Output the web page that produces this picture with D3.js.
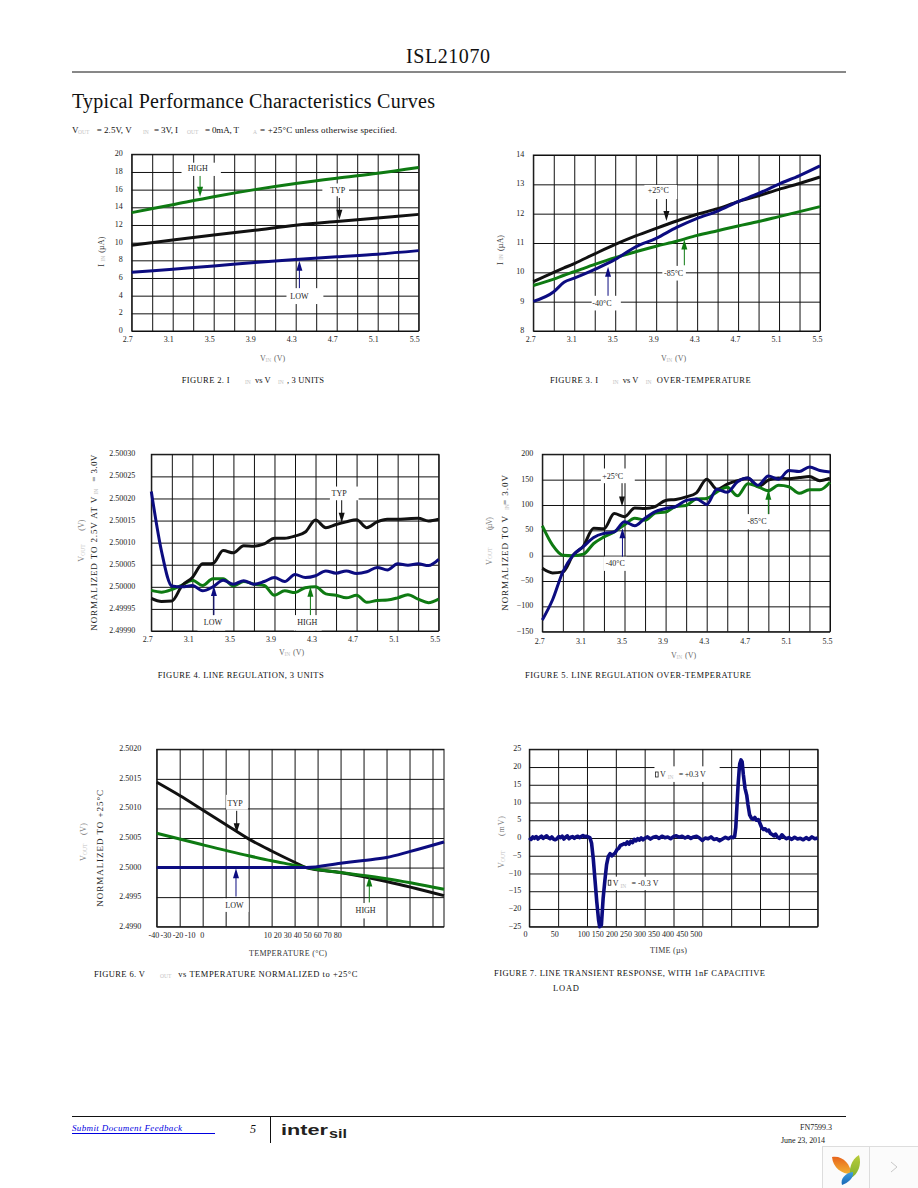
<!DOCTYPE html>
<html><head><meta charset="utf-8">
<script src="https://cdn.jsdelivr.net/npm/d3@7/dist/d3.min.js"></script>
<style>html,body{margin:0;padding:0;background:#fff}svg{display:block}text{font-family:"Liberation Serif","Times New Roman",serif}</style>
</head><body><div id="page"></div>
<script>
// ---------- data ----------
const vinCoarse = [2.7,3.1,3.5,3.9,4.3,4.7,5.1,5.5];
const fig2High = [13.4,14.3,15.2,16.0,16.7,17.3,17.85,18.5];
const fig2Typ  = [9.7,10.3,10.87,11.4,11.96,12.4,12.8,13.2];
const fig2Low  = [6.64,7.0,7.36,7.75,8.1,8.4,8.7,9.1];

const vinFig3 = [2.7,2.9,3.0,3.1,3.3,3.5,3.7,3.9,4.1,4.3,4.5,4.7,4.9,5.1,5.3,5.5];
const fig3P25 = [9.68,10.0,10.15,10.3,10.63,10.95,11.24,11.5,11.75,11.98,12.17,12.41,12.61,12.83,13.03,13.25];
const fig3P85 = [9.55,9.77,9.9,10.02,10.27,10.5,10.7,10.89,11.06,11.26,11.42,11.58,11.73,11.9,12.07,12.24];
const fig3M40 = [9.01,9.34,9.66,9.8,10.1,10.44,10.87,11.16,11.53,11.84,12.09,12.41,12.69,13.01,13.3,13.63];

const vinFine = [2.7,2.8,2.9,3.0,3.1,3.2,3.3,3.4,3.5,3.6,3.7,3.8,3.9,4.0,4.1,4.2,4.3,4.4,4.5,4.6,4.7,4.8,4.9,5.0,5.1,5.2,5.3,5.4,5.5];
// Figure 4: offset from 2.50000 V, in units of 10 uV
const fig4Typ  = [-2.6,-3.3,-3.2,0.3,2.1,5.2,5.3,8.2,7.7,9.3,9.2,9.7,11,11,11.5,12.4,15.1,13.4,14.1,14.7,15.2,13.4,14.7,15.3,15.3,15.4,15.5,14.9,15.3];
const fig4Low  = [21.6,8,0.2,0,0.3,-0.9,0,1.5,0.6,1.4,0.6,1.2,2.1,1.2,2.8,2.1,2.5,3.6,3.1,3.6,3,3.4,4.4,3.8,5.2,4.9,5.2,4.8,6.2];
const fig4High = [-0.8,-1.2,-0.6,0.4,1.5,0.3,1.8,1.8,0.2,1.2,0.6,0.3,-1.9,-0.9,-1.3,-0.2,0,-1.6,-1.9,-2.5,-1.9,-3.5,-3.1,-3,-2.5,-1.8,-2.8,-3.6,-2.8];

const fig5P25 = [-25,-34,-32,1,19,54,53,83,77,94,93,97,109,111,116,124,151,131,141,148,153,136,149,153,152,154,156,148,153];
const fig5M40 = [-127,-87,-32,1,18,36,44,47,67,59,74,87,93,97,109,112,101,131,125,146,153,139,157,151,168,166,175,168,165];
const fig5P85 = [59,21,1,0,3,24,37,47,61,74,70,84,86,97,99,112,113,126,135,118,142,136,128,139,136,123,130,130,145];

const tempTyp = [-40,-30,-20,-10,0,10,20,25,40,60,85];
const fig6Typ = [1.443,1.218,0.975,0.73,0.485,0.28,0.09,0,-0.085,-0.235,-0.475];
const tempHigh = [-40,-20,0,10,20,25,40,60,85];
const fig6High = [0.58,0.385,0.2,0.115,0.04,0,-0.085,-0.19,-0.367];
const tempLow = [-40,25,40,50,60,70,85];
const fig6Low = [0,0,0.073,0.12,0.17,0.27,0.434];

const transientTime = [0,3,6,9,12,15,18,21,24,27,30,33,36,39,42,45,48,51,54,57,60,63,66,69,72,75,78,81,84,87,90,93,96,99,102,105,108,111,114,117,120,122,125,128,131,134,137,140,143,146,149,152,155,158,161,164,167,170,173,176,179,182,185,188,191,194,197,200,205,210,215,220,225,230,235,240,245,250,255,260,265,270,275,280,285,290,295,300,305,310,315,320,325,330,335,340,345,350,353,356,358,360,362,364,365,367,369,371,374,377,379,382,385,388,391,394,397,400,403,406,409,412,415,418,421,424,427,430,434,438,442,446,450,455,460,465,470,475,480,485,490,495,500];
const transientMv   = [0.1,-0.4,0.3,-0.1,0.4,-0.3,0.2,0.5,-0.1,0.3,0.6,0.1,-0.2,0.3,-0.3,-0.5,-0.2,0.4,0.1,0.5,-0.3,0.3,0.6,-0.2,0.2,0.4,-0.1,0.3,0.5,0.1,0.4,0.7,0.3,0.5,0.3,0.1,-1.5,-6,-12,-18,-23,-25,-24.5,-17,-12,-7.5,-5.2,-4.4,-5,-4.6,-4.2,-3.3,-2.9,-2.1,-1.9,-1.6,-1.8,-1.1,-1.7,-0.9,-1.3,-0.4,-0.8,-0.2,-0.6,0,-0.5,-0.1,0.3,-0.3,0.2,0.4,-0.1,0.5,0.1,0.3,-0.2,0.4,0.6,0.2,0.5,0,0.4,-0.1,0.3,0.5,0,-0.7,0,-0.2,0.3,-0.4,-0.2,-0.8,-0.3,0.2,-0.2,0.3,0.1,0.4,3,9,15,19.5,21,22,21.5,18,14,12,9.5,6.5,5.6,5.3,5.8,5,5.2,4.1,2.9,2.4,2.6,2,2.2,1.3,1,0.6,1.1,0.3,-0.1,0.9,0.2,-0.2,0.1,-0.4,0.2,-0.3,-0.1,-0.5,0.1,-0.4,0.3,-0.2,0];

const figureCaptions = ["FIGURE 2. I","FIGURE 3. I","FIGURE 4. LINE REGULATION, 3 UNITS","FIGURE 5. LINE REGULATION OVER-TEMPERATURE","FIGURE 6. V","FIGURE 7. LINE TRANSIENT RESPONSE, WITH 1nF CAPACITIVE"];

// ---------- styles ----------
const GREEN="#0e7a12", BLACK="#111", NAVY="#0c0c80", GRAY="#c4c4c4", TICK="#222", AXT="#666";
const W=918,H=1188;
const svg=d3.select("#page").append("svg").attr("width",W).attr("height",H);
svg.append("rect").attr("width",W).attr("height",H).attr("fill","#fff");

function txt(g,x,y,s,o={}){
  const t=g.append("text").attr("x",x).attr("y",y).attr("font-size",o.size||8.5).attr("fill",o.fill||"#111").text(s);
  if(o.len){t.attr("textLength",o.len).attr("lengthAdjust",o.adjust||"spacing");}
  if(o.anchor)t.attr("text-anchor",o.anchor);
  if(o.italic)t.attr("font-style","italic");
  if(o.weight)t.attr("font-weight",o.weight);
  if(o.family)t.style("font-family",o.family);
  return t;
}
const sub=(g,x,y,s)=>txt(g,x,y,s,{size:5.5,fill:GRAY});
// rotated text reading bottom to top; runs = [offset, string, options]
function rotRuns(g,x,yBot,runs){
  const n=g.append("g").attr("transform",`translate(${x},${yBot}) rotate(-90)`);
  runs.forEach(r=>{ if(r[2]==="sub") sub(n,r[0],0.8,r[1]); else txt(n,r[0],0,r[1],r[2]); });
}

// ---------- page furniture ----------
svg.append("line").attr("x1",72).attr("x2",846).attr("y1",72).attr("y2",72).attr("stroke","#111");
txt(svg,406,63,"ISL21070",{size:20,len:84});
txt(svg,72,108,"Typical Performance Characteristics Curves",{size:20,len:363});
const s0=svg.append("g");
[[72,"V",0],[96.7,"= 2.5V, V",35],[154,"= 3V, I",24],[205,"= 0mA, T",34],[260,"= +25°C unless otherwise specified.",137]].forEach(d=>txt(s0,d[0],132.5,d[1],{size:9,len:d[2]||undefined}));
[[78,"OUT"],[143,"IN"],[187,"OUT"],[253,"A"]].forEach(d=>sub(s0,d[0],133.5,d[1]));

// ---------- chart factory ----------
function chart(c){
  const g=svg.append("g");
  const x=d3.scaleLinear().domain(c.xd).range([c.l,c.r]);
  const y=d3.scaleLinear().domain(c.yd).range([c.b,c.t]);
  const xgrid=d3.axisBottom(x).tickValues(c.xgrid).tickSize(c.t-c.b).tickFormat("");
  const ygrid=d3.axisLeft(y).tickValues(c.yticks).tickSize(c.l-c.r).tickFormat("");
  [g.append("g").attr("transform",`translate(0,${c.b})`).call(xgrid),
   g.append("g").attr("transform",`translate(${c.l},0)`).call(ygrid)].forEach(a=>{
     a.select(".domain").remove();
     a.selectAll("line").attr("stroke","#111").attr("stroke-width",1);
  });
  g.append("rect").attr("x",c.l).attr("y",c.t).attr("width",c.r-c.l).attr("height",c.b-c.t).attr("fill","none").attr("stroke","#111");
  const yl=d3.axisLeft(y).tickValues(c.yticks).tickSize(0).tickPadding(c.ygap).tickFormat(c.yfmt);
  const ya=g.append("g").attr("transform",`translate(${c.l},-1)`).call(yl);
  const lx=c.labelScale||x;
  const xl=d3.axisBottom(lx).tickValues(c.xlabels).tickSize(0).tickPadding(0).tickFormat(c.xfmt);
  const xa=g.append("g").attr("transform",`translate(${c.labelScale?0:c.xshift},${c.b+c.xgap})`).call(xl);
  [ya,xa].forEach(a=>{a.select(".domain").remove();a.selectAll("text").attr("font-size",8).attr("fill",TICK).style("font-family",'"Liberation Serif"');});
  const line=d3.line().x(d=>x(d[0])).y(d=>y(d[1])).curve(c.curve||d3.curveMonotoneX);
  c.series.forEach(s=>{
    g.append("path").attr("d",line(d3.zip(s.x,s.y))).attr("fill","none").attr("stroke",s.color).attr("stroke-width",c.sw||3).attr("stroke-linejoin","round");
  });
  (c.notes||[]).forEach(n=>{
    const bx=x(n.bx[0]),bx2=x(n.bx[1]),by=y(n.by[0]),by2=y(n.by[1]);
    g.append("rect").attr("x",bx).attr("y",by).attr("width",bx2-bx).attr("height",by2-by).attr("fill","#fff");
  });
  (c.notes||[]).forEach(n=>{
    if(n.label) txt(g,x(n.tx),y(n.ty)+2.7,n.label,{size:8,fill:"#222",anchor:"middle"});
    if(n.from!==undefined){
      const ax=x(n.ax),y1=y(n.from),y2=y(n.to),dir=y2>y1?1:-1;
      g.append("line").attr("x1",ax).attr("x2",ax).attr("y1",y1).attr("y2",y2-dir*6).attr("stroke",n.color).attr("stroke-width",1);
      g.append("path").attr("d",d3.line()([[ax-3,y2-dir*10],[ax+3,y2-dir*10],[ax,y2]])+"Z").attr("fill",n.color);
    }
    if(n.rich){
      const px=x(n.tx),py=y(n.ty);
      g.append("rect").attr("x",px+0.5).attr("y",py-2.5).attr("width",2.6).attr("height",5).attr("fill","none").attr("stroke","#222").attr("stroke-width",0.8);
      txt(g,px+5,py+3,"V",{size:8,fill:"#222"});
      sub(g,px+12.7,py+5,"IN");
      txt(g,px+23.7,py+3,n.rich,{size:8,fill:"#222",len:27});
    }
  });
  return g;
}
const stepRange=(a,b,s)=>d3.range(0,Math.round((b-a)/s)+1).map(i=>a+i*s);
const vGrid=stepRange(2.7,5.5,0.2), f1=d3.format(".1f");

chart({l:131.7,r:418.7,t:154.3,b:331,xd:[2.7,5.5],yd:[0,20],xgrid:vGrid,xlabels:vinCoarse,xfmt:f1,xshift:-4.5,xgap:5,
  yticks:stepRange(0,20,2),yfmt:d3.format("d"),ygap:9,
  series:[{x:vinCoarse,y:fig2High,color:GREEN},{x:vinCoarse,y:fig2Typ,color:BLACK},{x:vinCoarse,y:fig2Low,color:NAVY}],
  notes:[
   {label:"HIGH",tx:3.344,ty:18.45,bx:[3.186,3.57],by:[19.05,17.55],ax:3.367,from:17.55,to:15.2,color:GREEN},
   {label:"TYP",tx:4.71,ty:15.96,bx:[4.56,4.82],by:[16.7,15.25],ax:4.726,from:15.06,to:12.6,color:BLACK},
   {label:"LOW",tx:4.336,ty:3.96,bx:[4.21,4.57],by:[4.85,3.05],ax:4.336,from:4.85,to:7.96,color:NAVY}]});

chart({l:533.3,r:820,t:155,b:331,xd:[2.7,5.5],yd:[8,14],xgrid:vGrid,xlabels:vinCoarse,xfmt:f1,xshift:-3,xgap:5,
  yticks:stepRange(8,14,1),yfmt:d3.format("d"),ygap:9,
  series:[{x:vinFig3,y:fig3P25,color:BLACK},{x:vinFig3,y:fig3P85,color:GREEN},{x:vinFig3,y:fig3M40,color:NAVY}],
  notes:[
   {label:"+25°C",tx:3.92,ty:12.78,bx:[3.785,4.105],by:[12.98,12.5],ax:4.0,from:12.5,to:11.75,color:BLACK},
   {label:"-85°C",tx:4.07,ty:9.97,bx:[3.96,4.19],by:[10.22,9.72],ax:4.175,from:10.24,to:11.12,color:GREEN},
   {label:"-40°C",tx:3.37,ty:8.95,bx:[3.27,3.555],by:[9.2,8.7],ax:3.43,from:9.2,to:10.19,color:NAVY}]});

chart({l:151.3,r:438.7,t:454.3,b:631,xd:[2.7,5.5],yd:[-10,30],xgrid:vGrid,xlabels:vinCoarse,xfmt:f1,xshift:-4,xgap:5,
  yticks:stepRange(-10,30,5),yfmt:d=>(2.5+d*1e-5).toFixed(5),ygap:16,
  series:[{x:vinFine,y:fig4High,color:GREEN},{x:vinFine,y:fig4Typ,color:BLACK},{x:vinFine,y:fig4Low,color:NAVY}],
  notes:[
   {label:"TYP",tx:4.53,ty:21.2,bx:[4.44,4.72],by:[22.7,19.6],ax:4.555,from:19.6,to:14.5,color:BLACK},
   {label:"LOW",tx:3.3,ty:-8,bx:[3.15,3.42],by:[-6.4,-9.9],ax:3.31,from:-6.4,to:0.2,color:NAVY},
   {label:"HIGH",tx:4.22,ty:-8,bx:[4.09,4.36],by:[-6.4,-9.9],ax:4.25,from:-6.4,to:0,color:GREEN}]});

chart({l:542.3,r:830,t:454.3,b:631.7,xd:[2.7,5.5],yd:[-150,200],xgrid:vGrid,xlabels:vinCoarse,xfmt:f1,xshift:-3,xgap:6.5,
  yticks:stepRange(-150,200,50),yfmt:d3.format("d"),ygap:9,
  series:[{x:vinFine,y:fig5P25,color:BLACK},{x:vinFine,y:fig5P85,color:GREEN},{x:vinFine,y:fig5M40,color:NAVY}],
  notes:[
   {label:"+25°C",tx:3.385,ty:157,bx:[3.27,3.6],by:[172,143],ax:3.476,from:143,to:97,color:BLACK},
   {label:"-40°C",tx:3.41,ty:-15,bx:[3.3,3.52],by:[-2,-30],ax:3.48,from:-2,to:54,color:NAVY},
   {label:"-85°C",tx:4.79,ty:67,bx:[4.68,4.92],by:[82,52],ax:4.9,from:82,to:130,color:GREEN}]});

const tempLabels=[-40,-30,-20,-10,0,10,20,30,40,50,60,70,80];
chart({l:156.7,r:444,t:749.3,b:926.7,xd:[-40,85],yd:[-1,2],xgrid:stepRange(-40,80,10),xlabels:tempLabels,xfmt:d=>String(d),xgap:5.5,
  labelScale:d3.scaleLinear().domain([-40,0,10,80]).range([153.3,201.7,267.3,337.3]),
  yticks:stepRange(-1,2,0.5),yfmt:d=>(2.5+d*1e-3).toFixed(4),ygap:15.5,sw:3,
  series:[{x:tempTyp,y:fig6Typ,color:BLACK},{x:tempHigh,y:fig6High,color:GREEN},{x:tempLow,y:fig6Low,color:NAVY}],
  notes:[
   {label:"TYP",tx:-5.9,ty:1.088,bx:[-9.8,-0.3],by:[1.23,0.98],ax:-5.2,from:0.96,to:0.58,color:BLACK},
   {label:"LOW",tx:-6.2,ty:-0.63,bx:[-11,0],by:[-0.52,-0.75],ax:-5.5,from:-0.49,to:-0.01,color:NAVY},
   {label:"HIGH",tx:50.9,ty:-0.73,bx:[45.5,55.7],by:[-0.6,-0.86],ax:52.5,from:-0.59,to:-0.15,color:GREEN}]});

const timeLabels=d3.range(0,501,50);
chart({l:529.3,r:817.7,t:749.3,b:926.7,xd:[0,500],yd:[-25,25],xgrid:timeLabels,xlabels:timeLabels,xfmt:d3.format("d"),xgap:4.5,
  labelScale:d3.scaleLinear().domain([0,100,500]).range([525,583.3,695.7]),
  yticks:stepRange(-25,25,5),yfmt:d3.format("d"),ygap:8,curve:d3.curveLinear,sw:3.6,
  series:[{x:transientTime,y:transientMv,color:NAVY}],
  notes:[
   {rich:"= +0.3 V",tx:218,ty:17.9,bx:[217,330],by:[20.2,15.8]},
   {rich:"= -0.3 V",tx:136,ty:-12.6,bx:[135,226],by:[-10.9,-14.7]}]});

// ---------- axis titles ----------
const lab=svg.append("g");
function vin(x,y){txt(lab,x,y,"V",{size:8,fill:AXT});sub(lab,x+5.5,y+1,"IN");txt(lab,x+14,y,"(V)",{size:8,fill:AXT});}
vin(260,361);vin(661,361);vin(279,654.5);vin(671,657.5);
txt(lab,249,955.5,"TEMPERATURE (°C)",{size:8,len:78,fill:"#333"});
txt(lab,650,952.5,"TIME (µs)",{size:8,len:37,fill:"#333"});
const LB={size:8,fill:"#333"}, LG={size:8,fill:"#777"}, LN={size:9,fill:"#222"};
rotRuns(lab,104,266.7,[[0,"I",LB],[5,"IN","sub"],[14,"(µA)",{...LB,len:16}]]);
rotRuns(lab,502.5,265,[[0,"I",LB],[5,"IN","sub"],[14,"(µA)",{...LB,len:16}]]);
rotRuns(lab,84,561.7,[[0,"V",LG],[6,"OUT","sub"],[31,"(V)",{...LG,len:11}]]);
rotRuns(lab,97,630.7,[[0,"NORMALIZED TO 2.5V AT V",{...LN,len:134}],[136,"IN","sub"],[149,"= 3.0V",{...LN,len:27}]]);
rotRuns(lab,491.5,565,[[0,"V",LG],[6,"OUT","sub"],[35,"(µV)",{...LG,len:13}]]);
rotRuns(lab,508,610.7,[[0,"NORMALIZED TO V",{...LN,len:94.7}],[100.7,"IN","sub"],[105.7,"= 3.0V",{...LN,len:30}]]);
rotRuns(lab,86,861,[[0,"V",LG],[6,"OUT","sub"],[26,"(V)",{...LG,len:12}]]);
rotRuns(lab,103,906.7,[[0,"NORMALIZED TO +25°C",{...LN,len:116.7}]]);
rotRuns(lab,504,868,[[0,"V",LG],[6,"OUT","sub"],[32,"(mV)",{...LG,len:20}]]);

// ---------- captions ----------
const cap=svg.append("g"), CS=8.5;
txt(cap,181.7,383,figureCaptions[0],{size:CS,len:48});sub(cap,245,384,"IN");txt(cap,255,383,"vs V",{size:CS});sub(cap,278,384,"IN");txt(cap,287,383,", 3 UNITS",{size:CS,len:37});
txt(cap,550,383,figureCaptions[1],{size:CS,len:48});sub(cap,612.7,384,"IN");txt(cap,622.7,383,"vs V",{size:CS});sub(cap,645.7,384,"IN");txt(cap,656.7,383,"OVER-TEMPERATURE",{size:CS,len:94});
txt(cap,157.7,678,figureCaptions[2],{size:CS,len:166});
txt(cap,525,678,figureCaptions[3],{size:CS,len:226});
txt(cap,94,977,figureCaptions[4],{size:CS,len:51});sub(cap,160,978,"OUT");txt(cap,178.3,977,"vs TEMPERATURE NORMALIZED to +25°C",{size:CS,len:179});
txt(cap,494,976,figureCaptions[5],{size:CS,len:271});
txt(cap,553,990.5,"LOAD",{size:CS,len:26});

// ---------- footer ----------
const f=svg.append("g");
f.append("line").attr("x1",72).attr("x2",846).attr("y1",1116.5).attr("y2",1116.5).attr("stroke","#111");
txt(f,72,1131,"Submit Document Feedback",{size:9,fill:"#0000e0",italic:true,len:110});
f.append("line").attr("x1",72).attr("x2",215).attr("y1",1133.5).attr("y2",1133.5).attr("stroke","#0000e0");
txt(f,250,1133,"5",{size:12,italic:true});
f.append("line").attr("x1",270.5).attr("x2",270.5).attr("y1",1117).attr("y2",1143).attr("stroke","#111");
txt(f,281,1135,"inter",{size:15,weight:700,fill:"#231f20",family:'"Liberation Sans"',len:47,adjust:"spacingAndGlyphs"});
txt(f,329,1138,"sil",{size:13,weight:700,fill:"#231f20",family:'"Liberation Sans"',len:18,adjust:"spacingAndGlyphs"});
txt(f,800,1130,"FN7599.3",{size:8,len:32,fill:"#222"});
txt(f,781,1143,"June 23, 2014",{size:8,len:44,fill:"#222"});

// floating viewer widget
const wd=svg.append("g");
wd.append("rect").attr("x",822.5).attr("y",1146.5).attr("width",96).attr("height",42).attr("fill","#fbfbfb").attr("stroke","#ddd");
wd.append("line").attr("x1",869.5).attr("x2",869.5).attr("y1",1147).attr("y2",1188).attr("stroke","#ddd");
wd.append("path").attr("d","M891 1162 L897 1167 L891 1172").attr("fill","none").attr("stroke","#c8c8c8");
const grad=(id,a,b)=>{const l=svg.append("defs").append("linearGradient").attr("id",id).attr("x1",0).attr("y1",0).attr("x2",0).attr("y2",1);l.append("stop").attr("offset",0).attr("stop-color",a);l.append("stop").attr("offset",1).attr("stop-color",b);};
grad("lo","#e8641b","#f2b233");grad("lg","#b9cc3a","#7fb02c");grad("lb","#3f9ee0","#1767b5");
wd.append("path").attr("d","M832 1157 C842 1155 851 1164 851 1174 C842 1174 833 1168 832 1157Z").attr("fill","url(#lo)");
wd.append("path").attr("d","M859 1155 C862 1165 858 1174 851 1178 C848 1170 851 1160 859 1155Z").attr("fill","url(#lg)");
wd.append("path").attr("d","M853 1172 C854 1178 848 1183 842 1185 C840 1179 845 1173 853 1172Z").attr("fill","url(#lb)");
</script></body></html>
